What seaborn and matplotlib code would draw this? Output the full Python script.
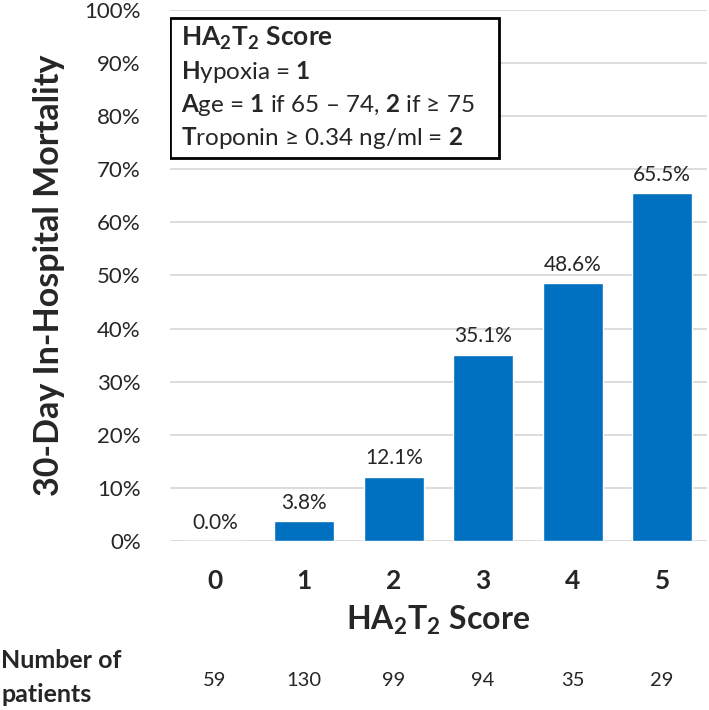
import matplotlib
matplotlib.use('Agg')
import matplotlib.pyplot as plt
import matplotlib.transforms as mtransforms
from matplotlib.patches import Rectangle
import seaborn as sns
import pandas as pd

# Data
scores = ['0', '1', '2', '3', '4', '5']
mortality = [0.0, 3.8, 12.1, 35.1, 48.6, 65.5]   # percent
patients = [59, 130, 99, 94, 35, 29]

legend_title = r'$\mathbf{HA_2T_2\ Score}$'
legend_lines = [
    r'$\mathbf{H}$ypoxia = $\mathbf{1}$',
    r'$\mathbf{A}$ge = $\mathbf{1}$ if 65 – 74, $\mathbf{2}$ if ≥ 75',
    r'$\mathbf{T}$roponin ≥ 0.34 ng/ml = $\mathbf{2}$',
]

sns.set_style('white')
plt.rcParams['font.family'] = ['Lato', 'DejaVu Sans']
plt.rcParams['mathtext.fontset'] = 'custom'
plt.rcParams['mathtext.rm'] = 'Lato'
plt.rcParams['mathtext.bf'] = 'Lato:bold'
plt.rcParams['mathtext.it'] = 'Lato:italic'

df = pd.DataFrame({'score': scores, 'mortality': mortality})

fig = plt.figure(figsize=(7.09, 7.10), dpi=100)
ax = fig.add_axes([0.2398, 0.238, 0.7572, 0.748])

sns.barplot(data=df, x='score', y='mortality', color='#0070C0',
            saturation=1, width=0.67, ax=ax, zorder=3)

ax.set_ylim(0, 100)
ax.set_xlim(-0.5, 5.5)
ax.set_yticks(range(0, 101, 10))
ax.set_yticklabels([f'{v}%' for v in range(0, 101, 10)], fontsize=16)
ax.yaxis.grid(True, color='#D9D9D9', linewidth=1.3, zorder=0)
ax.set_axisbelow(True)
for s in ax.spines.values():
    s.set_visible(False)
ax.tick_params(axis='both', length=0)
ax.tick_params(axis='y', pad=21)
ax.tick_params(axis='x', pad=20)
for lab in ax.get_xticklabels():
    lab.set_fontsize(19)
    lab.set_fontweight('bold')

ax.bar_label(ax.containers[0], labels=[f'{v:.1f}%' for v in mortality],
             padding=6, fontsize=15)

ax.set_ylabel('30-Day In-Hospital Mortality', fontsize=24.5, fontweight='bold',
              labelpad=14)
ax.set_xlabel(r'$\mathbf{HA_2T_2\ Score}$', fontsize=23, labelpad=8)

# info box in the top left corner
box = Rectangle((0.0, 0.721), 0.612, 0.264, transform=ax.transAxes,
                facecolor='white', edgecolor='black', linewidth=2, zorder=5)
ax.add_patch(box)
ax.text(0.02, 0.947, legend_title, transform=ax.transAxes,
        fontsize=19, va='center', ha='left', zorder=6)
for i, line in enumerate(legend_lines):
    ax.text(0.02, 0.883 - i * 0.062, line, transform=ax.transAxes,
            fontsize=17.5, va='center', ha='left', zorder=6)

# number of patients row
trans = mtransforms.blended_transform_factory(ax.transData, fig.transFigure)
for i, n in enumerate(patients):
    ax.text(i, 0.042, str(n), transform=trans, ha='center', va='center',
            fontsize=14.5)
fig.text(0.002, 0.046, 'Number of\npatients', ha='left', va='center',
         fontsize=18, fontweight='bold', linespacing=1.6)

fig.savefig('out.png', dpi=100)
